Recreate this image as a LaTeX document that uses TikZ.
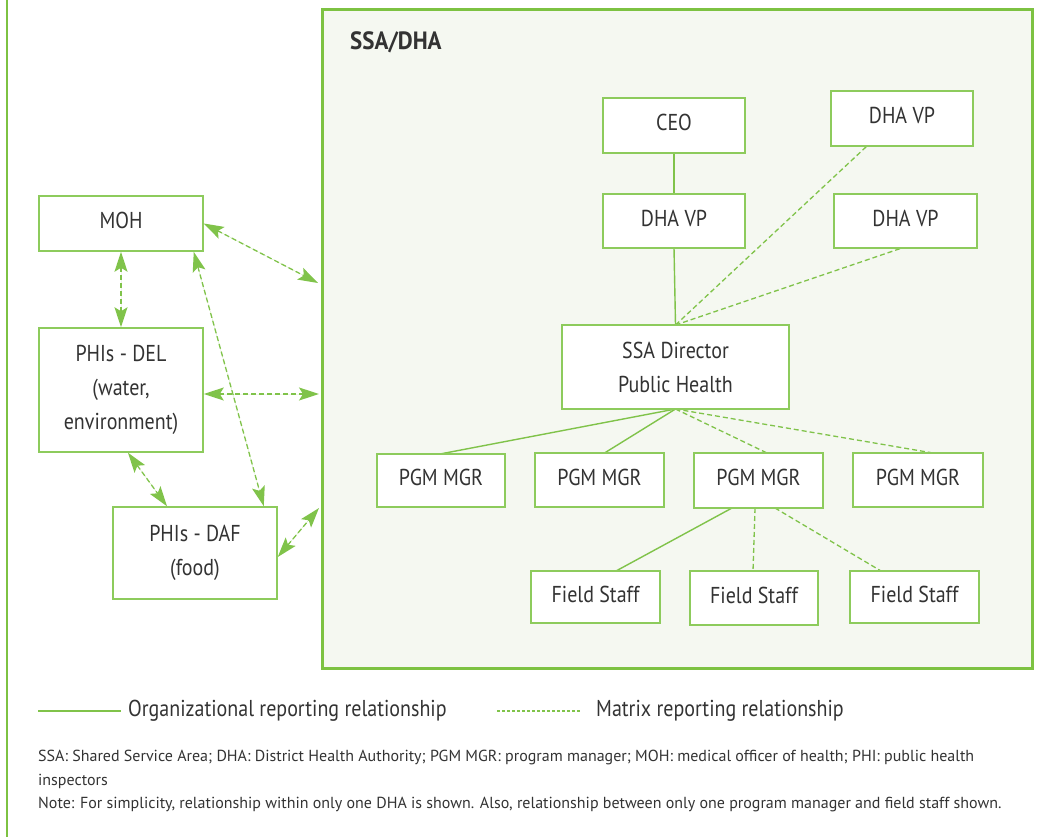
\documentclass[tikz,border=0pt]{standalone}
\usepackage{fontspec}
\setmainfont{PT Sans}[FakeStretch=0.87]
\newfontfamily\headfont{PT Sans}[FakeStretch=0.92]
\newfontfamily\notesfont{PT Sans}
\usetikzlibrary{arrows.meta}
\definecolor{framegreen}{HTML}{7DC242}
\definecolor{boxgreen}{HTML}{8DCB5C}
\definecolor{linegreen}{HTML}{80C34A}
\definecolor{panel}{HTML}{F5F8F1}
\definecolor{ink}{HTML}{333333}
\newcommand\bxfont{\fontsize{23}{34}\selectfont}
\newcommand\legfont{\fontsize{23}{28}\selectfont}
\newcommand\notefont{\notesfont\fontsize{16}{24}\selectfont}
\begin{document}
\begin{tikzpicture}[x=1pt,y=-1pt,
  box/.style={draw=boxgreen, line width=1.5pt, fill=white, text=ink,
    font=\bxfont, inner sep=0pt, align=center},
  oneline/.style={box, text depth=6pt},
  org/.style={draw=linegreen, line width=1.4pt},
  mtx/.style={draw=linegreen, line width=1.3pt, dash pattern=on 5pt off 3pt},
  tip/.tip={Stealth[length=20pt,width=13pt,inset=4pt]},
  twoway/.style={mtx, fill=linegreen, tip-tip},
  legtext/.style={anchor=base west, inner sep=0pt, text=ink, font=\legfont},
  notetext/.style={anchor=base west, inner sep=0pt, text=ink, font=\notefont},
]
\useasboundingbox (0,0) rectangle (1051,837);

% outer left rule
\coordinate (rt) at (7,0);
\coordinate (rb) at (7,837);
\draw[framegreen, line width=2.5pt] (rt) -- (rb);

% SSA/DHA panel
\node[draw=framegreen, line width=3pt, fill=panel, minimum width=710pt,
  minimum height=658pt, inner sep=0pt] (ssa) at (677,339) {};
\node[anchor=base west, inner sep=0pt, text=ink,
  font=\headfont\fontsize{25}{28}\selectfont\bfseries] (ssalbl) at (350,50) {SSA/DHA};

% reporting lines (drawn first, boxes cover their ends)
\coordinate (dirN) at (675.5,325);
\coordinate (dirS) at (675.5,409);
\draw[org] (674,153) -- (674,194);
\draw[org] (674,248) -- (dirN);
\draw[mtx] (dirN) -- (867,146);
\draw[mtx] (dirN) -- (902,248);
\draw[org] (dirS) -- (440,454);
\draw[org] (dirS) -- (604.5,453);
\draw[mtx] (dirS) -- (767,453);
\draw[mtx] (dirS) -- (933,453);
\draw[org] (732,508) -- (616,571);
\draw[mtx] (755,508) -- (753,571);
\draw[mtx] (775,508) -- (881,571);

% boxes inside the panel
\node[oneline, minimum width=142pt, minimum height=55pt] (ceo) at (674,125.5) {CEO};
\node[oneline, minimum width=142pt, minimum height=54pt] (vp1) at (674,221) {DHA VP};
\node[oneline, minimum width=142pt, minimum height=55pt] (vp2) at (902,118.5) {DHA VP};
\node[oneline, minimum width=143pt, minimum height=54pt] (vp3) at (905.5,221) {DHA VP};
\node[box, minimum width=227pt, minimum height=84pt] (dir) at (675.5,367)
  {SSA Director\\Public Health};
\node[oneline, minimum width=128pt, minimum height=53pt] (pgm1) at (441,480.5) {PGM MGR};
\node[oneline, minimum width=129pt, minimum height=54pt] (pgm2) at (599.5,480) {PGM MGR};
\node[oneline, minimum width=129pt, minimum height=55pt] (pgm3) at (758.5,480.5) {PGM MGR};
\node[oneline, minimum width=130pt, minimum height=54pt] (pgm4) at (918,480) {PGM MGR};
\node[oneline, minimum width=129pt, minimum height=52pt] (fs1) at (595.5,597) {Field Staff};
\node[oneline, minimum width=128pt, minimum height=54pt] (fs2) at (754,598) {Field Staff};
\node[oneline, minimum width=129pt, minimum height=52pt] (fs3) at (914.5,597) {Field Staff};

% boxes outside the panel
\node[oneline, minimum width=164pt, minimum height=55pt] (moh) at (121,223.5) {MOH};
\node[box, minimum width=164pt, minimum height=124pt] (del) at (121,390)
  {PHIs - DEL\\(water,\\environment)};
\node[box, minimum width=164pt, minimum height=92pt] (daf) at (195,553)
  {PHIs - DAF\\(food)};

% matrix links to the panel and between the local offices
\coordinate (p1) at (318,283);
\coordinate (p2) at (319,394);
\coordinate (p3) at (319,508);
\draw[twoway] (moh.east) -- (p1);
\draw[twoway] (moh.south) -- (del.north);
\draw[twoway] ([xshift=-10pt]moh.south east) -- ([xshift=-14pt]daf.north east);
\draw[twoway] ([yshift=-4pt]del.east) -- (p2);
\draw[twoway] ([xshift=7pt]del.south) -- ([xshift=-28pt]daf.north);
\draw[twoway] ([yshift=-4pt]daf.east) -- (p3);

% legend
\coordinate (la) at (38,711);
\coordinate (lb) at (121,711);
\coordinate (lc) at (497,711);
\coordinate (ld) at (581,711);
\draw[linegreen, line width=1.4pt] (la) -- (lb);
\draw[linegreen, line width=1.3pt, dash pattern=on 3pt off 2pt] (lc) -- (ld);
\node[legtext] (lt1) at (128,716) {Organizational reporting relationship};
\node[legtext] (lt2) at (596,716) {Matrix reporting relationship};

% notes
\node[notetext] (n1) at (38,761.5)
  {SSA: Shared Service Area; DHA: District Health Authority; PGM MGR: program manager; MOH: medical officer of health; PHI: public health};
\node[notetext] (n2) at (38,785) {inspectors};
\node[notetext] (n3) at (38,808.5)
  {Note: For simplicity, relationship within only one DHA is shown. Also, relationship between only one program manager and field staff shown.};
\end{tikzpicture}
\end{document}
